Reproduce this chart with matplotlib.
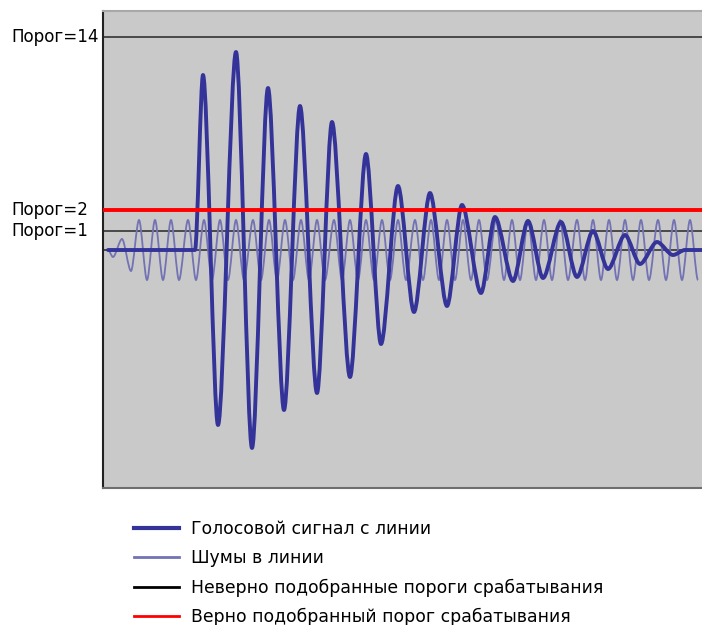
import matplotlib
matplotlib.use("Agg")
import matplotlib.pyplot as plt
import matplotlib.transforms as mtransforms
from matplotlib.lines import Line2D
from matplotlib.path import Path
from matplotlib.patches import PathPatch

# ---- data (x in samples, y in signal units) ----
signal_x = [5, 92, 100, 115, 133, 149, 165, 181, 197, 214, 229, 247, 263, 278,
            295, 311, 327, 344, 359, 378, 392, 410, 425, 440, 458, 474, 490,
            505, 522, 537, 554, 570, 582, 599]
signal_y = [0, 0, 175, -175, 198, -198, 162, -160, 144, -143, 128, -127, 96,
            -94, 64, -62, 57, -56, 45, -43, 33, -31, 29, -28, 28, -27, 19,
            -19, 15, -14, 8, -5, 0, 0]

noise_x = [5, 10, 19, 28,
           36, 44, 52, 60, 68, 76, 85, 93, 101, 109, 117, 125, 133, 141,
           150, 158, 166, 174, 182, 190, 198, 206, 214, 222, 231, 239, 247,
           255, 263, 271, 279, 287, 295, 303, 312, 320, 328, 336, 344, 352,
           360, 368, 376, 384, 393, 401, 409, 417, 425, 433, 441, 449, 457,
           465, 474, 482, 490, 498, 506, 514, 522, 530, 538, 546, 555, 563,
           571, 579, 587, 595]
noise_y = [0, -7, 11, -21,
           30, -30, 30, -30, 30, -30, 30, -30, 30, -30, 30, -30, 30, -30,
           30, -30, 30, -30, 30, -30, 30, -30, 30, -30, 30, -30, 30,
           -30, 30, -30, 30, -30, 30, -30, 30, -30, 30, -30, 30, -30,
           30, -30, 30, -30, 30, -30, 30, -30, 30, -30, 30, -30, 30,
           -30, 30, -30, 30, -30, 30, -30, 30, -30, 30, -30, 30, -30,
           30, -30, 30, -30]

wrong_levels = [213, 19, 0]
wrong_labels = ["Порог=14", "Порог=1", None]
right_level = 40
right_label = "Порог=2"

legend_labels = ["Голосовой сигнал с линии",
                 "Шумы в линии",
                 "Неверно подобранные пороги срабатывания",
                 "Верно подобранный порог срабатывания"]

# ---- styles ----
SIG_C = "#333399"
NOISE_C = "#7272b4"
BG = "#c9c9c9"
FS = 12.4


def wave_path(xs, ys, k=0.3):
    # smooth wave through the extrema: flat tangent at every point
    verts = [(xs[0], ys[0])]
    codes = [Path.MOVETO]
    for i in range(1, len(xs)):
        x0, y0, x1, y1 = xs[i - 1], ys[i - 1], xs[i], ys[i]
        d = k * (x1 - x0)
        verts += [(x0 + d, y0), (x1 - d, y1), (x1, y1)]
        codes += [Path.CURVE4] * 3
    return Path(verts, codes)


plt.rcParams['font.family'] = ['DejaVu Sans']
fig = plt.figure(figsize=(7.02, 6.25), dpi=100)
ax = fig.add_axes([103 / 702, 1 - 488 / 625, 599 / 702, 477 / 625])
ax.set_facecolor(BG)
ax.set_xlim(0, 599)
ax.set_ylim(-238, 239)
ax.set_xticks([])
ax.set_yticks([])
ax.spines['left'].set_color('#222222')
ax.spines['left'].set_linewidth(1.5)
ax.spines['bottom'].set_color('#6e6e6e')
ax.spines['bottom'].set_linewidth(1.5)
ax.spines['top'].set_color('#a8a8a8')
ax.spines['top'].set_linewidth(1.5)
ax.spines['right'].set_visible(False)

for lv in wrong_levels:
    ax.axhline(lv, color='#333333', lw=1.2, zorder=1)

ax.add_patch(PathPatch(wave_path(noise_x, noise_y), fill=False,
                       edgecolor=NOISE_C, lw=1.3, zorder=2))
ax.add_patch(PathPatch(wave_path(signal_x, signal_y), fill=False,
                       edgecolor=SIG_C, lw=2.8, zorder=3,
                       joinstyle='round', capstyle='round'))
ax.axhline(right_level, color='#ff0000', lw=2.8, zorder=4)

# threshold labels on the left
tr = mtransforms.blended_transform_factory(fig.transFigure, ax.transData)
for lv, lab in zip(wrong_levels + [right_level], wrong_labels + [right_label]):
    if lab:
        ax.text(11 / 702, lv, lab, transform=tr, ha='left', va='center',
                fontsize=12.1, color='black', clip_on=False)

handles = [Line2D([], [], color=SIG_C, lw=3),
           Line2D([], [], color=NOISE_C, lw=2),
           Line2D([], [], color='black', lw=2),
           Line2D([], [], color='#ff0000', lw=2)]
fig.legend(handles, legend_labels, loc='upper left',
           bbox_to_anchor=(134 / 702, 1 - 520 / 625), frameon=False,
           fontsize=FS, handlelength=2.6, handletextpad=0.7,
           labelspacing=0.65, borderaxespad=0, borderpad=0)

fig.savefig("out.png", dpi=100)
